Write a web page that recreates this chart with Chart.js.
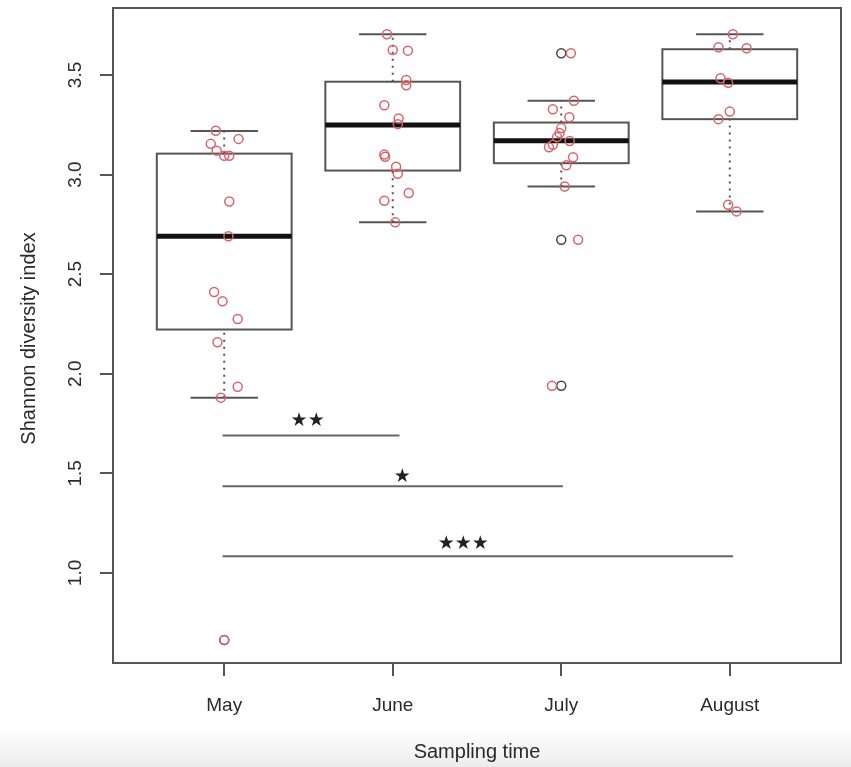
<!DOCTYPE html>
<html>
<head>
<meta charset="utf-8">
<script src="https://cdn.jsdelivr.net/npm/chart.js@4.4.1/dist/chart.umd.min.js"></script>
<style>
html, body { margin: 0; padding: 0; }
body { width: 851px; height: 767px; overflow: hidden; background: linear-gradient(to bottom, #fff 0px, #fff 728px, #ececec 767px); }
canvas { display: block; }
</style>
</head>
<body>
<canvas id="chart" width="851" height="767"></canvas>
<script>
// --- DATA ---
const months = ['May', 'June', 'July', 'August'];
const yTicks = [1.0, 1.5, 2.0, 2.5, 3.0, 3.5];

// box stats
const whiskerLow = [1.88, 2.76, 2.94, 2.815];
const quart1 = [2.222, 3.02, 3.057, 3.278];
const medians = [2.69, 3.249, 3.169, 3.465];
const quart3 = [3.105, 3.466, 3.261, 3.629];
const whiskerHigh = [3.219, 3.704, 3.37, 3.704];

// outliers drawn by the boxplot (group index, value)
const outlierGroup = [1, 3, 3, 3];
const outlierValue = [0.663, 3.609, 2.673, 1.94];

// jittered samples
const mayValues = [3.22, 3.179, 3.154, 3.12, 3.094, 3.094, 2.865, 2.69, 2.41, 2.364, 2.275, 2.158, 1.935, 1.88, 0.663];
const mayJitter = [-0.05, 0.085, -0.08, -0.045, 0, 0.03, 0.03, 0.025, -0.06, -0.01, 0.08, -0.04, 0.08, -0.02, 0];
const juneValues = [3.704, 3.625, 3.622, 3.475, 3.448, 3.348, 3.281, 3.253, 3.10, 3.089, 3.039, 3.004, 2.907, 2.868, 2.76];
const juneJitter = [-0.034, 0, 0.09, 0.08, 0.08, -0.05, 0.035, 0.03, -0.05, -0.045, 0.02, 0.03, 0.095, -0.05, 0.015];
const julyValues = [3.609, 3.37, 3.328, 3.288, 3.233, 3.208, 3.188, 3.168, 3.149, 3.137, 3.087, 3.047, 2.94, 2.673, 1.94];
const julyJitter = [0.057, 0.075, -0.05, 0.048, 0, -0.01, -0.025, 0.05, -0.05, -0.073, 0.07, 0.03, 0.02, 0.1, -0.055];
const augValues = [3.704, 3.639, 3.634, 3.483, 3.461, 3.316, 3.278, 2.848, 2.815];
const augJitter = [0.018, -0.067, 0.1, -0.055, -0.01, 0, -0.067, -0.01, 0.04];

// significance bars
const sigStart = [0.99, 0.99, 0.99];
const sigEnd = [2.04, 3.01, 4.02];
const sigLevel = [1.69, 1.435, 1.084];
const sigText = ['★★', '★', '★★★'];
const sigTextX = [1.495, 2.057, 2.418];
const sigTextY = [1.76, 1.483, 1.146];

// --- BUILD POINTS ---
function groupPoints(g, vals, jit) {
    return vals.map((v, i) => ({ x: g + jit[i], y: v }));
}
const points = [
    ...groupPoints(1, mayValues, mayJitter),
    ...groupPoints(2, juneValues, juneJitter),
    ...groupPoints(3, julyValues, julyJitter),
    ...groupPoints(4, augValues, augJitter)
];

const FONT = '"Liberation Sans", Arial, Helvetica, sans-serif';
const TEXT = '#2a2a2a';
const LINE = '#555';

function seg(ctx, x1, y1, x2, y2) {
    ctx.beginPath();
    ctx.moveTo(x1, y1);
    ctx.lineTo(x2, y2);
    ctx.stroke();
}

// --- BOXPLOT + ANNOTATIONS ---
const boxPlugin = {
    id: 'boxes',
    beforeDatasetsDraw(chart) {
        const { ctx, scales: { x, y } } = chart;
        ctx.save();
        months.forEach((m, i) => {
            const g = i + 1;
            const cx = x.getPixelForValue(g);
            const bl = x.getPixelForValue(g - 0.4), br = x.getPixelForValue(g + 0.4);
            const sl = x.getPixelForValue(g - 0.2), sr = x.getPixelForValue(g + 0.2);
            ctx.strokeStyle = LINE;
            ctx.lineWidth = 2;
            ctx.setLineDash([2, 5]);
            seg(ctx, cx, y.getPixelForValue(whiskerLow[i]), cx, y.getPixelForValue(quart1[i]));
            seg(ctx, cx, y.getPixelForValue(quart3[i]), cx, y.getPixelForValue(whiskerHigh[i]));
            ctx.setLineDash([]);
            seg(ctx, sl, y.getPixelForValue(whiskerLow[i]), sr, y.getPixelForValue(whiskerLow[i]));
            seg(ctx, sl, y.getPixelForValue(whiskerHigh[i]), sr, y.getPixelForValue(whiskerHigh[i]));
            const top = y.getPixelForValue(quart3[i]), bot = y.getPixelForValue(quart1[i]);
            ctx.strokeRect(bl, top, br - bl, bot - top);
            ctx.strokeStyle = '#111';
            ctx.lineWidth = 5;
            seg(ctx, bl, y.getPixelForValue(medians[i]), br, y.getPixelForValue(medians[i]));
        });
        // boxplot outliers, black open circles at the group centre
        ctx.strokeStyle = '#444';
        ctx.lineWidth = 1.5;
        outlierValue.forEach((v, i) => {
            ctx.beginPath();
            ctx.arc(x.getPixelForValue(outlierGroup[i]), y.getPixelForValue(v), 4.5, 0, Math.PI * 2);
            ctx.stroke();
        });
        ctx.restore();
    },
    afterDraw(chart) {
        const { ctx, chartArea: a, scales: { x, y } } = chart;
        ctx.save();
        // frame
        ctx.strokeStyle = LINE;
        ctx.lineWidth = 2;
        ctx.strokeRect(a.left, a.top, a.right - a.left, a.bottom - a.top);

        // significance bars
        ctx.strokeStyle = '#666';
        ctx.lineWidth = 2;
        sigLevel.forEach((v, i) => {
            const py = y.getPixelForValue(v);
            seg(ctx, x.getPixelForValue(sigStart[i]), py, x.getPixelForValue(sigEnd[i]), py);
        });
        ctx.fillStyle = '#222';
        ctx.font = '19px "DejaVu Sans", sans-serif';
        ctx.textAlign = 'center';
        ctx.textBaseline = 'middle';
        sigText.forEach((t, i) => {
            ctx.fillText(t, x.getPixelForValue(sigTextX[i]), y.getPixelForValue(sigTextY[i]));
        });

        // tick labels
        ctx.fillStyle = TEXT;
        ctx.font = '19px ' + FONT;
        months.forEach((m, i) => {
            ctx.fillText(m, x.getPixelForValue(i + 1), 706);
        });
        yTicks.forEach(v => {
            ctx.save();
            ctx.translate(76, y.getPixelForValue(v));
            ctx.rotate(-Math.PI / 2);
            ctx.fillText(v.toFixed(1), 0, 0);
            ctx.restore();
        });

        // axis titles
        ctx.font = '20px ' + FONT;
        ctx.fillText('Sampling time', (a.left + a.right) / 2, 752);
        ctx.save();
        ctx.translate(29, (a.top + a.bottom) / 2 + 3);
        ctx.rotate(-Math.PI / 2);
        ctx.fillText('Shannon diversity index', 0, 0);
        ctx.restore();
        ctx.restore();
    }
};

const tickGrid = { drawOnChartArea: false, drawTicks: true, tickLength: 13, color: LINE, lineWidth: 2 };

const ctx = document.getElementById('chart').getContext('2d');
new Chart(ctx, {
    type: 'scatter',
    data: {
        datasets: [{
            data: points,
            pointStyle: 'circle',
            radius: 4.5,
            hoverRadius: 4.5,
            borderWidth: 1.5,
            borderColor: '#d8646a',
            backgroundColor: 'rgba(0,0,0,0)'
        }]
    },
    options: {
        responsive: false,
        animation: false,
        devicePixelRatio: 1,
        events: [],
        layout: { padding: { top: 8, right: 10, left: 0, bottom: 0 } },
        plugins: { legend: { display: false }, tooltip: { enabled: false } },
        scales: {
            x: {
                type: 'linear',
                min: 0.34,
                max: 4.66,
                afterBuildTicks: s => { s.ticks = months.map((m, i) => ({ value: i + 1 })); },
                afterFit: s => { s.height = 104; },
                ticks: { display: false },
                grid: tickGrid,
                border: { display: false }
            },
            y: {
                type: 'linear',
                min: 0.548,
                max: 3.836,
                afterBuildTicks: s => { s.ticks = yTicks.map(v => ({ value: v })); },
                afterFit: s => { s.width = 113; },
                ticks: { display: false },
                grid: tickGrid,
                border: { display: false }
            }
        }
    },
    plugins: [boxPlugin]
});
</script>
</body>
</html>
